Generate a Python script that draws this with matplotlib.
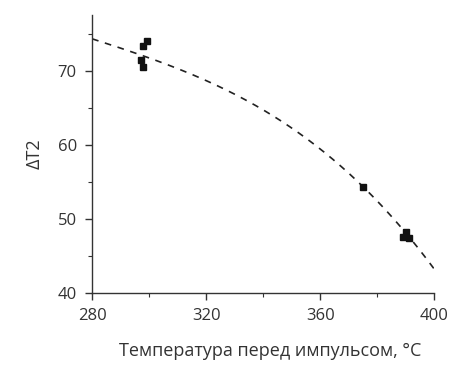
import numpy as np
import matplotlib
matplotlib.use('Agg')
import matplotlib.pyplot as plt
from matplotlib.ticker import MultipleLocator

plt.rcParams['font.family'] = ['Open Sans', 'DejaVu Sans']

# measured points
temp = [299.2, 297.7, 297.0, 298.0, 375.0, 390.0, 389.0, 391.2]
dt2 = [74.0, 73.4, 71.45, 70.45, 54.3, 48.2, 47.5, 47.4]

# dashed trend curve
trend_x = [280, 285.2, 299.2, 318, 335.4, 351.8, 368.2, 375, 400]
trend_y = [74.3, 73.6, 71.9, 69.1, 65.6, 61.7, 56.8, 54.5, 43.2]

# smooth it for drawing
coef = np.polyfit(trend_x, trend_y, 3)
xs = np.linspace(280, 400, 200)
ys = np.polyval(coef, xs)

fig = plt.figure(figsize=(4.75, 3.69), dpi=100)
ax = fig.add_axes([0.194, 0.206, 0.72, 0.753])

ax.plot(xs, ys, color='#222222', lw=1.2, ls=(0, (4, 4)))
ax.plot(temp, dt2, 's', color='#111111', ms=5)

ax.set_xlim(280, 400)
ax.set_ylim(40, 77.5)
ax.xaxis.set_major_locator(MultipleLocator(40))
ax.xaxis.set_minor_locator(MultipleLocator(20))
ax.yaxis.set_major_locator(MultipleLocator(10))
ax.yaxis.set_minor_locator(MultipleLocator(5))

for s in ['top', 'right']:
    ax.spines[s].set_visible(False)
for s in ['left', 'bottom']:
    ax.spines[s].set_color('#333333')
    ax.spines[s].set_linewidth(1.0)

ax.tick_params(which='major', length=5, width=1, color='#333333', labelsize=12, labelcolor='#333333', pad=6)
ax.tick_params(which='minor', length=3, width=0.8, color='#333333')

ax.set_xlabel('Температура перед импульсом, °C', fontsize=13, color='#333333', labelpad=13, x=0.52)
ax.set_ylabel('ΔT2', fontsize=13, color='#333333', labelpad=10)

fig.savefig('out.png', dpi=100)
